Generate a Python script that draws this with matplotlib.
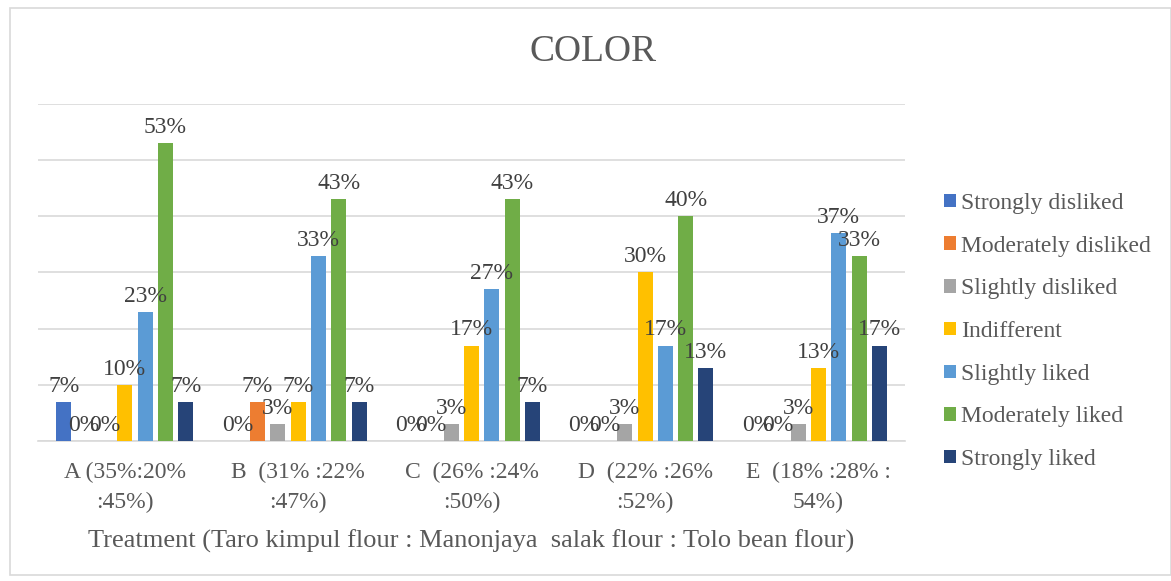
import numpy as np
import matplotlib.pyplot as plt
from matplotlib.patches import Rectangle

plt.rcParams['font.family'] = ['Liberation Serif', 'DejaVu Serif']

# Data (percent of panelists)
groups = ["A (35%:20%\n:45%)", "B  (31% :22%\n:47%)", "C  (26% :24%\n:50%)",
          "D  (22% :26%\n:52%)", "E  (18% :28% :\n54%)"]
series = ["Strongly disliked", "Moderately disliked", "Slightly disliked",
          "Indifferent", "Slightly liked", "Moderately liked", "Strongly liked"]
strongly_disliked = [7, 0, 0, 0, 0]
moderately_disliked = [0, 7, 0, 0, 0]
slightly_disliked = [0, 3, 3, 3, 3]
indifferent = [10, 7, 17, 30, 13]
slightly_liked = [23, 33, 27, 17, 37]
moderately_liked = [53, 43, 43, 40, 33]
strongly_liked = [7, 7, 7, 13, 17]
values = [strongly_disliked, moderately_disliked, slightly_disliked, indifferent,
          slightly_liked, moderately_liked, strongly_liked]
colors = ["#4472C4", "#ED7D31", "#A5A5A5", "#FFC000", "#5B9BD5", "#70AD47", "#264478"]

fig = plt.figure(figsize=(11.71, 5.81), dpi=100)
fig.patches.append(Rectangle((10 / 1171, 6 / 581), 1 - 10 / 1171, 1 - 14 / 581,
                             transform=fig.transFigure, fill=False,
                             edgecolor="#d9d9d9", linewidth=1.2))
ax = fig.add_axes([0.0325, 0.241, 0.7405, 0.58])

x = np.arange(len(groups))
pitch = 0.117
width = 0.087
for i, (name, vals, c) in enumerate(zip(series, values, colors)):
    pos = x + (i - 3) * pitch
    ax.bar(pos, vals, width=width, color=c, label=name, zorder=3)
    for px, v in zip(pos, vals):
        ax.text(px, v + 0.9, f"{v}%", ha="center", va="bottom",
                fontsize=17, color="#404040", zorder=4)

ax.set_xlim(-0.5, len(groups) - 0.5)
ax.set_ylim(0, 60)
ax.set_yticks(np.arange(0, 61, 10))
ax.set_yticklabels([])
ax.tick_params(axis="y", length=0)
ax.tick_params(axis="x", length=0, pad=15)
ax.grid(axis="y", color="#d9d9d9", linewidth=1.2, zorder=0)
for s in ["top", "right", "left"]:
    ax.spines[s].set_visible(False)
ax.spines["bottom"].set_color("#d9d9d9")
ax.spines["bottom"].set_linewidth(1.2)

ax.set_xticks(x)
ax.set_xticklabels(groups, fontsize=17, color="#595959", linespacing=1.55)
ax.set_xlabel("Treatment (Taro kimpul flour : Manonjaya  salak flour : Tolo bean flour)",
              fontsize=19, color="#595959", labelpad=12)

fig.text(593 / 1171, 1 - 52 / 581, "COLOR", ha="center", va="center",
         fontsize=27, color="#595959")

ax.legend(loc="center left", bbox_to_anchor=(1.02, 0.325), frameon=False,
          fontsize=17, labelcolor="#595959", handlelength=0.5, handleheight=0.5,
          handletextpad=0.25, labelspacing=0.92)

plt.savefig("out.png", dpi=100)
